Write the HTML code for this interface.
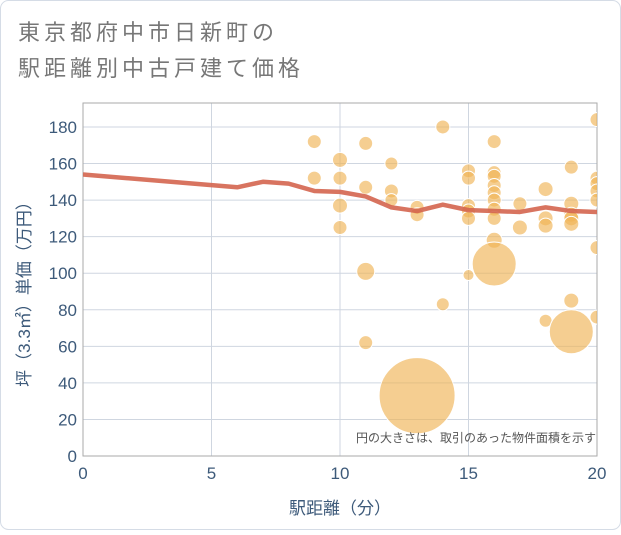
<!DOCTYPE html>
<html><head><meta charset="utf-8"><style>
body{margin:0;background:#fff;font-family:"Liberation Sans","Noto Sans CJK JP",sans-serif;}
</style></head><body>
<svg id="c" width="621" height="530" xmlns="http://www.w3.org/2000/svg" style="font-family:'Liberation Sans','Noto Sans CJK JP',sans-serif">
<rect x="0.5" y="0.5" width="620" height="529" rx="8" fill="#fff" stroke="#d5dce6"/>
<text x="18" y="40" font-size="22" fill="#777" letter-spacing="4">東京都府中市日新町の</text>
<text x="18" y="76" font-size="22" fill="#777" letter-spacing="4">駅距離別中古戸建て価格</text>
<g id="grid"></g><g id="axes"></g>
<rect x="83" y="103" width="514" height="353" fill="none" stroke="#aaa" stroke-width="1"/>
<defs><clipPath id="clip"><rect x="83" y="103" width="514" height="353"/></clipPath></defs>
<g id="pts" clip-path="url(#clip)"></g>
<g id="ln" clip-path="url(#clip)"></g>
<text x="596" y="442" font-size="12" fill="#555" text-anchor="end">円の大きさは、取引のあった物件面積を示す</text>
<text x="340" y="514" font-size="17" fill="#3d5a7a" text-anchor="middle">駅距離（分）</text>
<text transform="translate(30,290) rotate(-90)" font-size="17" fill="#3d5a7a" text-anchor="middle">坪（3.3㎡）単価（万円）</text>
</svg>
<script>
const xTicks=[0,5,10,15,20];
const yTicks=[0,20,40,60,80,100,120,140,160,180];
const ptX=[9,9,10,10,10,10,11,11,11,11,12,12,12,13,13,13,14,14,15,15,15,15,15,15,16,16,16,16,16,16,16,16,16,16,17,17,18,18,18,18,19,19,19,19,19,19,19,20,20,20,20,20,20,20];
const ptY=[172,152,162,152,137,125,171,147,101,62,160,145,140,136,132,33,180,83,156,152,137,134,130,99,172,155,153,148,144,140,135,130,118,105,138,125,146,130,126,74,158,138,132,130,127,85,68,184,152,149,145,140,114,76];
const ptR=[7,7,7.5,7,7.5,7,7,7,9,7,6.5,7,6.5,7,7,38,7,6.5,7,7,7,7,7,5.5,7,7,7,7,7,7,7,7,8,22,7,7.5,7.5,7.5,7.5,6.5,7,7.5,7.5,7.5,7.5,7.5,22,7,7,7,7,7,7,7];
const lineX=[0,6,7,8,9,10,11,12,13,14,15,16,17,18,19,20];
const lineY=[154,147,150,149,145,144.5,142,136,134,137.5,134.5,134,133.5,136,134,133.5];
const X=v=>83+v*25.7, Y=v=>456-v*1.828;
const ns="http://www.w3.org/2000/svg";
function mk(t,a,p){const e=document.createElementNS(ns,t);for(const k in a)e.setAttribute(k,a[k]);p.appendChild(e);return e;}
const g=document.getElementById('grid'),ax=document.getElementById('axes');
xTicks.forEach(v=>{const l=mk('line',{x1:X(v),x2:X(v),y1:103,y2:456,stroke:'#cfd6e0'},g);

const t=mk('text',{x:X(v),y:479,'font-size':17,fill:'#3d5a7a','text-anchor':'middle'},ax);t.textContent=v;
});
yTicks.forEach(v=>{const l=mk('line',{x1:83,x2:597,y1:Y(v),y2:Y(v),stroke:'#cfd6e0'},g);

const t=mk('text',{x:77,y:Y(v)+6,'font-size':17,fill:'#3d5a7a','text-anchor':'end'},ax);t.textContent=v;
});
const b=mk('line',{x1:83,x2:597,y1:456,y2:456,stroke:'#444'},ax);

const p=document.getElementById('pts');
ptX.forEach((x,i)=>{const c=mk('circle',{cx:X(x),cy:Y(ptY[i]),r:ptR[i],fill:'#f0b456','fill-opacity':0.65,stroke:'#fff','stroke-width':1},p);
});
const pl=mk('polyline',{points:lineX.map((x,i)=>X(x)+','+Y(lineY[i])).join(' '),fill:'none',stroke:'#d4654f','stroke-width':4.5,'stroke-opacity':0.9,'stroke-linejoin':'round'},document.getElementById('ln'));

</script>
</body></html>
